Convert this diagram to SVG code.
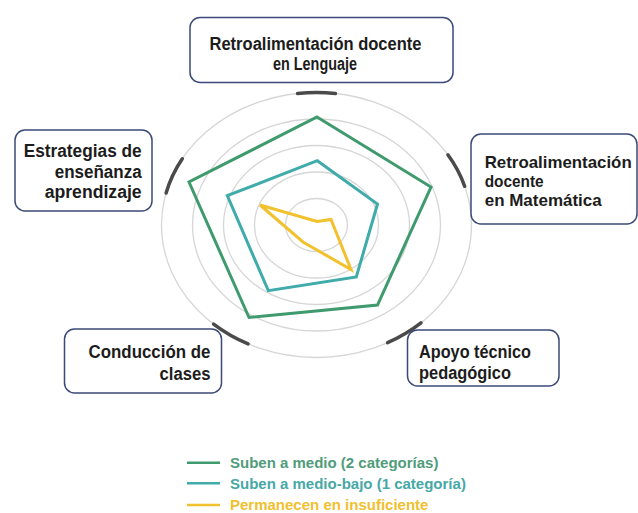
<svg xmlns="http://www.w3.org/2000/svg" width="638" height="513" viewBox="0 0 638 513">
<style>
.box{fill:#ffffff;stroke:#3b4a78;stroke-width:1.5}
.lbl{font-family:"Liberation Sans",Arial,sans-serif;font-weight:bold;font-size:18px;fill:#1c1c1c}
.sm{font-size:17px}
.ring{fill:none;stroke:#d6d6d6;stroke-width:1.3}
.tick{fill:none;stroke:#4a4a4a;stroke-width:3.5;stroke-linecap:round}
.ser{fill:none;stroke-width:3;stroke-linejoin:miter}
.leg{font-family:"Liberation Sans",Arial,sans-serif;font-weight:bold;font-size:15px}
</style>
<rect width="638" height="513" fill="#ffffff"/>
<g id="grid">
<ellipse class="ring" cx="316.5" cy="225" rx="155" ry="132.5"/>
<ellipse class="ring" cx="316.5" cy="225" rx="124" ry="106"/>
<ellipse class="ring" cx="316.5" cy="225" rx="93" ry="79.5"/>
<ellipse class="ring" cx="316.5" cy="225" rx="62" ry="53"/>
<ellipse class="ring" cx="316.5" cy="225" rx="31" ry="26.5"/>
</g>
<g id="connectors">
<path class="tick" d="M297.6 93.5 A155 132.5 0 0 1 335.4 93.5"/>
<path class="tick" d="M447.9 154.8 A155 132.5 0 0 1 464.7 186.3"/>
<path class="tick" d="M421 322.9 A155 132.5 0 0 1 387.6 342.7"/>
<path class="tick" d="M248.1 343.9 A155 132.5 0 0 1 213.6 324.1"/>
<path class="tick" d="M166.1 193 A155 132.5 0 0 1 182.3 158.8"/>
</g>
<g id="series">
<polygon id="s-medio" class="ser" stroke="#3f9a6e" points="317,117 431,187 377.5,305 249,317.5 189,182"/>
<polygon id="s-mediobajo" class="ser" stroke="#3fabaa" points="317.3,160.7 377.5,204 356.3,277 268.3,290.7 227.3,195.7"/>
<polygon id="s-insuf" class="ser" stroke="#f2c12e" points="317,221.5 331,219.5 351,269.5 303,242 260,205"/>
</g>
<g id="node-lenguaje">
<rect class="box" x="190" y="17.5" width="263" height="65" rx="10"/>
<text class="lbl" x="315.5" y="50" text-anchor="middle" textLength="212" lengthAdjust="spacingAndGlyphs">Retroalimentación docente</text>
<text class="lbl" x="315" y="70" text-anchor="middle" textLength="84" lengthAdjust="spacingAndGlyphs">en Lenguaje</text>
</g>
<g id="node-matematica">
<rect class="box" x="471" y="134" width="166" height="90" rx="10"/>
<text class="lbl sm" x="484.7" y="168" textLength="147" lengthAdjust="spacingAndGlyphs">Retroalimentación</text>
<text class="lbl sm" x="484.7" y="187" textLength="59" lengthAdjust="spacingAndGlyphs">docente</text>
<text class="lbl sm" x="484.7" y="206" textLength="117" lengthAdjust="spacingAndGlyphs">en Matemática</text>
</g>
<g id="node-apoyo">
<rect class="box" x="407.5" y="330" width="151.5" height="56" rx="10"/>
<text class="lbl" x="419" y="358" textLength="112" lengthAdjust="spacingAndGlyphs">Apoyo técnico</text>
<text class="lbl" x="419" y="379" textLength="92" lengthAdjust="spacingAndGlyphs">pedagógico</text>
</g>
<g id="node-conduccion">
<rect class="box" x="64.5" y="329" width="157" height="64" rx="10"/>
<text class="lbl" x="210.5" y="358" text-anchor="end" textLength="122" lengthAdjust="spacingAndGlyphs">Conducción de</text>
<text class="lbl" x="210.5" y="380" text-anchor="end" textLength="51" lengthAdjust="spacingAndGlyphs">clases</text>
</g>
<g id="node-estrategias">
<rect class="box" x="15" y="130" width="137" height="81" rx="10"/>
<text class="lbl" x="141.7" y="157" text-anchor="end" textLength="118" lengthAdjust="spacingAndGlyphs">Estrategias de</text>
<text class="lbl" x="141.7" y="177.5" text-anchor="end" textLength="87" lengthAdjust="spacingAndGlyphs">enseñanza</text>
<text class="lbl" x="141.7" y="197.5" text-anchor="end" textLength="97" lengthAdjust="spacingAndGlyphs">aprendizaje</text>
</g>
<g id="legend">
<line x1="187" y1="462.7" x2="220" y2="462.7" stroke="#3f9a6e" stroke-width="2.5"/>
<text class="leg" x="230" y="468" fill="#4f9c7a">Suben a medio (2 categorías)</text>
<line x1="187" y1="483.3" x2="220" y2="483.3" stroke="#3fabaa" stroke-width="2.5"/>
<text class="leg" x="230" y="488.5" fill="#46a8a6">Suben a medio-bajo (1 categoría)</text>
<line x1="187" y1="505" x2="220" y2="505" stroke="#f2c12e" stroke-width="2.5"/>
<text class="leg" x="230" y="510" fill="#f0c030">Permanecen en insuficiente</text>
</g>
</svg>
